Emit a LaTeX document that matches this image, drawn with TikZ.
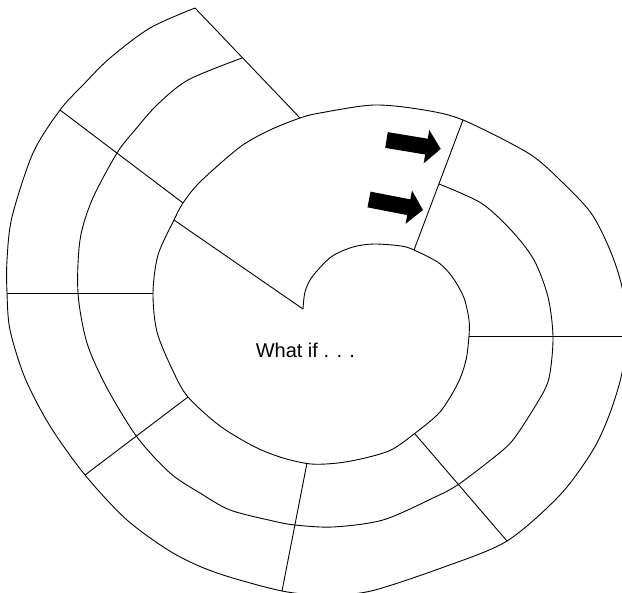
\documentclass[tikz,border=0pt]{standalone}
\usepackage{fontspec}
\setmainfont{Liberation Sans}
\begin{document}
\begin{tikzpicture}[x=1pt,y=-1pt,
  spiralline/.style={draw=black, line width=0.9pt, line join=round},
  divider/.style={draw=black, line width=0.9pt},
  blockarrow/.style={fill=black, draw=none},
  label/.style={font=\fontsize{20}{24}\selectfont, inner sep=0pt, anchor=base}]
\useasboundingbox (0,0) rectangle (622,593);
\clip (0,0) rectangle (622,593);

% main spiral
\draw[spiralline] plot[smooth, tension=0.5] coordinates {
 (303,309) (305,292) (312,277) (331,257) (353,247) (374,244) (401,246) (414,250)
 (439,263) (453,278) (464,298) (469,320) (469,336) (466,360) (458,383) (440,412)
 (414,434) (391,450) (365,458) (338,463) (311,464) (283,458) (255,447) (220,426)
 (188,397) (173,371) (157,332) (153,293) (158,255) (174,220) (183,203) (200,182)
 (240,147) (270,130) (300,118) (320,113) (374,105) (424,110) (463,120) (528,153)
 (560,180) (591,213) (610,250) (622,287) (627,330) (622,373) (610,413) (593,450)
 (560,495) (507,541) (444,567) (371,591) (325,595) (282,591) (217,573) (173,553)
 (127,520) (85,475) (50,426) (25,378) (10,330) (7,293) (7,260) (12,217) (33,153)
 (60,110) (83,85) (110,58) (150,28) (195,8)};

% middle spiral band
\draw[spiralline] plot[smooth, tension=0.5] coordinates {
 (439,184) (481,203) (511,230) (534,260) (548,297) (553,336) (550,373) (543,393)
 (518,433) (503,450) (459,484) (433,498) (383,520) (333,527) (295,525) (273,521)
 (230,510) (200,493) (170,473) (137,437) (107,388) (87,343) (78,293) (80,240)
 (92,200) (117,153) (135,130) (157,105) (188,80) (242,58)};

% end points of the dividers
\coordinate (tip) at (303,309);
\coordinate (tipend) at (174,220);
\coordinate (r2a) at (60,110);   \coordinate (r2b) at (183,203);
\coordinate (r3a) at (7,293);    \coordinate (r3b) at (153,293);
\coordinate (r4a) at (85,475);   \coordinate (r4b) at (188,397);
\coordinate (r5a) at (282,591);  \coordinate (r5b) at (307,463);
\coordinate (r6a) at (415,434);  \coordinate (r6b) at (507,541);
\coordinate (r7a) at (469,336);  \coordinate (r7b) at (622,336);
\coordinate (r8a) at (414,250);  \coordinate (r8b) at (463,120);
\coordinate (r9a) at (195,8);    \coordinate (r9b) at (300,118);

\draw[divider] (tip) -- (tipend);
\draw[divider] (r2a) -- (r2b);
\draw[divider] (r3a) -- (r3b);
\draw[divider] (r4a) -- (r4b);
\draw[divider] (r5a) -- (r5b);
\draw[divider] (r6a) -- (r6b);
\draw[divider] (r7a) -- (r7b);
\draw[divider] (r8a) -- (r8b);
\draw[divider] (r9a) -- (r9b);

% block arrows
\begin{scope}[shift={(386.5,140)}, rotate=-9.4]
 \fill[blockarrow] (0,8) -- (40.5,8) -- (40.5,17) -- (55,0) -- (40.5,-17) -- (40.5,-8) -- (0,-8) -- cycle;
\end{scope}
\begin{scope}[shift={(369,199.5)}, rotate=-11]
 \fill[blockarrow] (0,8) -- (40.5,8) -- (40.5,17) -- (55,0) -- (40.5,-17) -- (40.5,-8) -- (0,-8) -- cycle;
\end{scope}

\node[label] (whatif) at (305.4,358) {What if . . .};
\end{tikzpicture}
\end{document}
